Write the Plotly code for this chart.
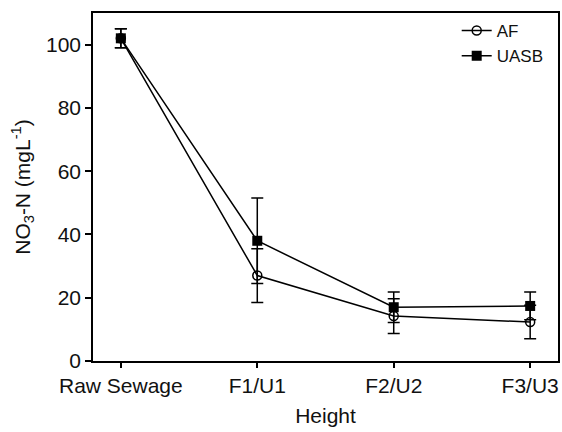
import plotly.graph_objects as go

categories = ["Raw Sewage", "F1/U1", "F2/U2", "F3/U3"]
af_values = [102, 27, 14.2, 12.3]
af_errors = [3, 8.5, 5.5, 5.3]
uasb_values = [102, 38, 17, 17.4]
uasb_errors = [3, 13.5, 4.8, 4.4]

x_idx = list(range(len(categories)))

fig = go.Figure()
fig.add_trace(go.Scatter(
    x=x_idx, y=af_values, name="AF", mode="lines+markers",
    line=dict(color="black", width=1.5),
    marker=dict(symbol="circle-open", size=9, color="black", line=dict(width=1.5)),
    error_y=dict(type="data", array=af_errors, visible=True, color="black", thickness=1.5, width=6),
))
fig.add_trace(go.Scatter(
    x=x_idx, y=uasb_values, name="UASB", mode="lines+markers",
    line=dict(color="black", width=1.5),
    marker=dict(symbol="square", size=10, color="black"),
    error_y=dict(type="data", array=uasb_errors, visible=True, color="black", thickness=1.5, width=6),
))

font_family = "Liberation Sans, Arial, sans-serif"
fig.update_layout(
    width=562, height=432,
    margin=dict(l=93, r=2, t=13, b=71),
    paper_bgcolor="white", plot_bgcolor="white",
    font=dict(family=font_family, size=21, color="#111"),
    showlegend=True,
    legend=dict(x=0.98, y=1.0, xanchor="right", yanchor="top",
                bgcolor="rgba(0,0,0,0)", font=dict(size=17), itemwidth=30,
                tracegroupgap=0),
    xaxis=dict(
        tickmode="array", tickvals=x_idx, ticktext=categories,
        range=[-0.204, 3.204], showgrid=False, zeroline=False,
        showline=True, linecolor="black", linewidth=1.5, mirror=True,
        ticks="outside", ticklen=5, tickcolor="black", tickwidth=1.5,
        title=dict(text="Height", font=dict(size=21), standoff=12),
    ),
    yaxis=dict(
        range=[0, 110], tickvals=[0, 20, 40, 60, 80, 100],
        showgrid=False, zeroline=False,
        showline=True, linecolor="black", linewidth=1.5, mirror=True,
        ticks="outside", ticklen=6, tickcolor="black", tickwidth=1.5,
        title=dict(text="NO<sub>3</sub>-N (mgL<sup>-1</sup>)", font=dict(size=21), standoff=10),
    ),
)

fig.write_html("out.html", config={"displayModeBar": False},
               post_script="document.body.style.margin='0';")
